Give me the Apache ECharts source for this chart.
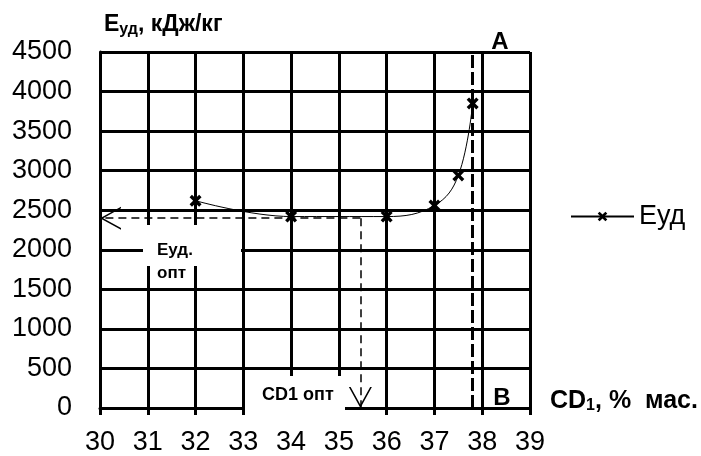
<!DOCTYPE html>
<html>
<head>
<meta charset="utf-8">
<script src="https://cdn.jsdelivr.net/npm/echarts@6/dist/echarts.min.js"></script>
<style>
  html, body { margin: 0; padding: 0; background: #fff; }
  #chart { width: 701px; height: 456px; }
</style>
</head>
<body>
<div id="chart"></div>
<script>
// концентрация CD1, % мас.
const cdValues = [32, 34, 36, 37, 37.5, 37.8];
// удельные энергозатраты, кДж/кг
const eValues = [2620, 2420, 2420, 2560, 2940, 3850];
// шкалы
const xRange = [30, 39];
const yRange = [0, 4500];
// оптимум и граница A-B
const optCD = 35.45;
const optE = 2400;
const limitCD = 37.8;

const font = 'Liberation Sans';
const crossPath = 'path://M0,2 L2,0 L5,3 L8,0 L10,2 L7,5 L10,8 L8,10 L5,7 L2,10 L0,8 L3,5 Z';
// стрелка-галочка, остриё в центре символа
const chevronPath = 'path://M10,0 L10.05,0.05 L9.95,0.05 Z M10,20 L20,40 L18.5,40 L10,23 L1.5,40 L0,40 Z';

const chart = echarts.init(document.getElementById('chart'));

chart.setOption({
  animation: false,
  backgroundColor: '#fff',
  textStyle: { fontFamily: font, color: '#000' },
  grid: { left: 100, right: 171, top: 52, bottom: 44 },
  legend: {
    data: ['Еуд'],
    left: 565,
    top: 198,
    itemWidth: 63,
    itemHeight: 12,
    itemGap: 5,
    textStyle: { fontSize: 27, color: '#000', fontFamily: font }
  },
  xAxis: {
    type: 'value',
    min: xRange[0],
    max: xRange[1],
    interval: 1,
    axisLine: { lineStyle: { color: '#000', width: 3 } },
    axisTick: { show: true, length: 7, lineStyle: { color: '#000', width: 3 } },
    axisLabel: { color: '#000', fontSize: 27, margin: 21, fontFamily: font },
    splitLine: { show: true, lineStyle: { color: '#000', width: 3 } },
    name: '{a|CD}{b|1}{a|, %  мас.}',
    nameLocation: 'end',
    nameGap: 20,
    nameTextStyle: {
      align: 'left',
      verticalAlign: 'middle',
      padding: [0, 0, 14, 0],
      rich: {
        a: { fontSize: 25, fontWeight: 'bold', color: '#000', fontFamily: font },
        b: { fontSize: 16, fontWeight: 'bold', color: '#000', fontFamily: font, padding: [9, 0, 0, 0] }
      }
    }
  },
  yAxis: {
    type: 'value',
    min: yRange[0],
    max: yRange[1],
    interval: 500,
    axisLine: { show: true, lineStyle: { color: '#000', width: 3 } },
    axisTick: { show: false },
    axisLabel: { color: '#000', fontSize: 27, margin: 28, fontFamily: font, formatter: v => String(v) },
    splitLine: { show: true, lineStyle: { color: '#000', width: 3 } },
    name: '{a|Е}{b|уд}{a|, кДж/кг}',
    nameLocation: 'end',
    nameGap: 27,
    nameTextStyle: {
      align: 'left',
      verticalAlign: 'middle',
      padding: [0, 0, 0, 4],
      rich: {
        a: { fontSize: 23, fontWeight: 'bold', color: '#000', fontFamily: font },
        b: { fontSize: 16, fontWeight: 'bold', color: '#000', fontFamily: font, padding: [9, 0, 0, 0] }
      }
    }
  },
  series: [
    {
      name: 'Еуд',
      type: 'line',
      smooth: 0.4,
      data: cdValues.map((x, i) => [x, eValues[i]]),
      symbol: crossPath,
      symbolSize: 12,
      lineStyle: { color: '#000', width: 1 },
      itemStyle: { color: '#000' },
      z: 5
    },
    {
      // пунктир к оптимуму
      name: 'opt',
      type: 'line',
      data: [],
      markLine: {
        silent: true,
        symbol: ['none', chevronPath],
        symbolSize: [23, 42],
        label: { show: false },
        lineStyle: { color: '#000', width: 1.5, type: [8, 5] },
        data: [
          [{ coord: [optCD, optE] }, { coord: [xRange[0], optE] }],
          [{ coord: [optCD, optE] }, { coord: [optCD, yRange[0]] }]
        ]
      }
    },
    {
      // граница A-B
      name: 'limit',
      type: 'line',
      data: [],
      markLine: {
        silent: true,
        symbol: 'none',
        label: { show: false },
        lineStyle: { color: '#000', width: 3, type: [13, 4] },
        data: [{ xAxis: limitCD }]
      }
    }
  ],
  graphic: [
    { type: 'rect', z: 100, shape: { x: 143, y: 225, width: 98, height: 41 }, style: { fill: '#fff' } },
    { type: 'rect', z: 100, shape: { x: 245, y: 376, width: 100, height: 40 }, style: { fill: '#fff' } },
    { type: 'text', z: 101, x: 157, y: 250, style: { text: 'Еуд.', fontSize: 17, fontWeight: 'bold', fontFamily: font, fill: '#000', verticalAlign: 'middle' } },
    { type: 'text', z: 101, x: 157, y: 273, style: { text: 'опт', fontSize: 17, fontWeight: 'bold', fontFamily: font, fill: '#000', verticalAlign: 'middle' } },
    { type: 'text', z: 101, x: 262, y: 395, style: { text: 'CD1 опт', fontSize: 18, fontWeight: 'bold', fontFamily: font, fill: '#000', verticalAlign: 'middle' } },
    { type: 'text', z: 101, x: 500, y: 42, style: { text: 'A', fontSize: 24, fontWeight: 'bold', fontFamily: font, fill: '#000', align: 'center', verticalAlign: 'middle' } },
    { type: 'text', z: 101, x: 502, y: 398, style: { text: 'B', fontSize: 24, fontWeight: 'bold', fontFamily: font, fill: '#000', align: 'center', verticalAlign: 'middle' } }
  ]
});
</script>
</body>
</html>
